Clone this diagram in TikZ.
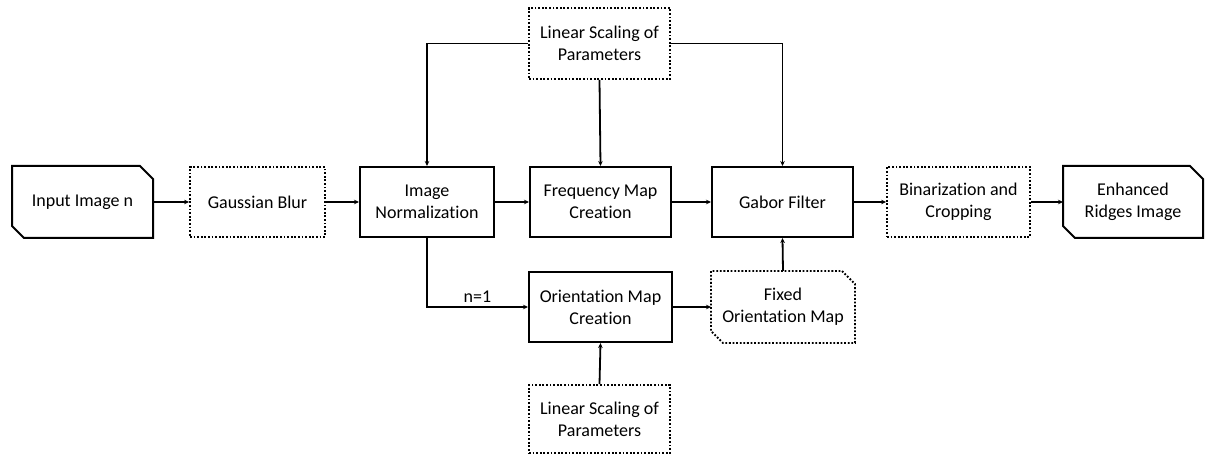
\documentclass[tikz,border=0pt]{standalone}
\usepackage{fontspec}
\setmainfont{Carlito}[RawFeature=-liga]
\usetikzlibrary{arrows.meta}
\tikzset{
  blk/.style={draw, line width=2pt, minimum height=70pt, align=center,
    inner sep=2pt, font=\fontsize{18}{22}\selectfont},
  dotblk/.style={blk, line width=1.8pt, dash pattern=on 1.8pt off 1.8pt},
  cutblk/.style={blk, draw=none},
  link/.style={line width=1.8pt, -{Stealth[length=5pt,width=4.5pt]}},
}
% outline with the north-east and south-west corners cut off
\newcommand{\cutoutline}[2]{%
  \draw[#2] ([xshift=-13pt]#1.north east) -- ([yshift=-13pt]#1.north east)
    -- (#1.south east) -- ([xshift=12pt]#1.south west)
    -- ([yshift=12pt]#1.south west) -- (#1.north west) -- cycle;}
\begin{document}
\begin{tikzpicture}[x=1pt,y=-1pt]
\useasboundingbox (0,0) rectangle (1205,454);
\node[cutblk, minimum width=139pt] (inp) at (82.5,202) {Input Image n};
\node[dotblk, minimum width=135pt] (blur) at (257.5,202) {Gaussian Blur};
\node[blk, minimum width=134pt] (norm) at (427,202) {Image\\Normalization};
\node[blk, minimum width=141pt] (freq) at (600.5,202) {Frequency Map\\Creation};
\node[blk, minimum width=141pt] (gabor) at (782.5,202) {Gabor Filter};
\node[dotblk, minimum width=143pt] (bin) at (958.5,202) {Binarization and\\Cropping};
\node[cutblk, minimum width=138pt] (out) at (1133,202) {Enhanced\\Ridges Image};
\node[dotblk, minimum width=141pt, minimum height=71pt] (top) at (599.5,43.5) {Linear Scaling of\\Parameters};
\node[blk, minimum width=143pt] (orient) at (600.5,307) {Orientation Map\\Creation};
\node[cutblk, minimum width=142pt] (fixed) at (783,307) {Fixed\\Orientation Map};
\node[dotblk, minimum width=141pt, minimum height=68pt] (bot) at (599.5,419) {Linear Scaling of\\Parameters};

\cutoutline{inp}{line width=2pt}
\cutoutline{out}{line width=2pt}
\cutoutline{fixed}{line width=1.8pt, dash pattern=on 1.8pt off 1.8pt}

\draw[link] (inp) -- (blur);
\draw[link] (blur) -- (norm);
\draw[link] (norm) -- (freq);
\draw[link] (freq) -- (gabor);
\draw[link] (gabor) -- (bin);
\draw[link] (bin) -- (out);
\draw[link] (top.west) -| (norm.north);
\draw[link] (top.east) -| (gabor.north);
\draw[link] (top.south) -- (freq.north);
\draw[link] (norm.south) |- node[pos=0.75, above, font=\fontsize{18}{22}\selectfont] {n=1} (orient.west);
\draw[link] (orient) -- (fixed);
\draw[link] (fixed.north) -- (gabor.south);
\draw[link] (bot.north) -- (orient.south);
\end{tikzpicture}
\end{document}
